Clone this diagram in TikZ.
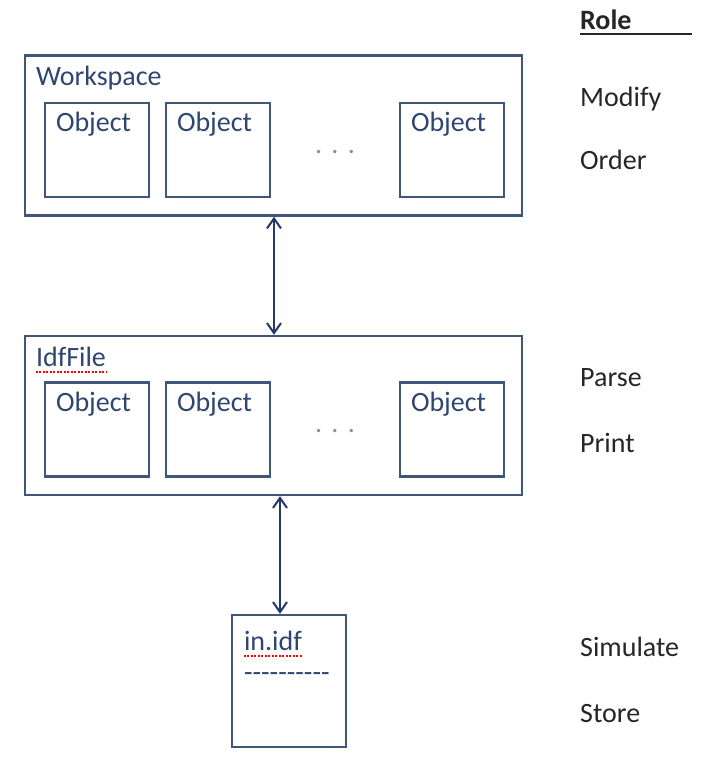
\documentclass[tikz,border=0pt]{standalone}
\usepackage{fontspec}
\setmainfont{Carlito}
\newfontfamily\rawfont{Carlito}
\usetikzlibrary{arrows.meta,calc,positioning}
\definecolor{boxline}{HTML}{40577A}
\definecolor{boxtext}{HTML}{2F4670}
\definecolor{linkcol}{HTML}{22396A}
\definecolor{roletext}{HTML}{262626}
\tikzset{
  panel/.style={draw=boxline, line width=2.4pt, minimum width=497pt, minimum height=160pt, inner sep=0pt},
  objbox/.style={draw=boxline, line width=2.4pt, minimum width=104pt, minimum height=94pt, inner sep=0pt},
  boxlbl/.style={anchor=base west, inner sep=0pt, text=boxtext, font=\fontsize{28}{34}\selectfont},
  rolelbl/.style={anchor=base west, inner sep=0pt, text=roletext, font=\fontsize{28}{34}\selectfont},
  link/.style={draw=linkcol, line width=2pt, {Straight Barb[length=10pt,width=14pt]}-{Straight Barb[length=10pt,width=14pt]}},
  spell/.style={draw=red, dash pattern=on 2pt off 1.5pt, line width=1.5pt}
}
\begin{document}
\begin{tikzpicture}[x=1pt, y=-1pt]
\useasboundingbox[fill=white] (0,0) rectangle (720,762);
% Workspace
\node[panel] (ws) at (273.5,135.5) {};
\node[boxlbl] (wslbl) at ([shift={(12,31)}]ws.north west) {Workspace};
\node[objbox] (w1) at (97,150) {};
\node[objbox] (w2) at (218,150) {};
\node[objbox] (w3) at (452,150) {};
\foreach \b in {w1,w2,w3}
  \node[boxlbl] (\b lbl) at ([shift={(12,30)}]\b.north west) {Object};
\node[boxlbl, anchor=center, text=boxtext!60] (wsdots) at ([yshift=-2pt]$(w2.east)!0.5!(w3.west)$) {.\,\,.\,\,.};
%
% IdfFile
\node[panel, minimum height=159pt] (idf) at (273.5,415.5) {};
\node[boxlbl] (idflbl) at ([shift={(12,32)}]idf.north west) {IdfFile};
\draw[spell] ([yshift=-5pt]idflbl.base west) -- ([yshift=-5pt]idflbl.base east);
\node[objbox] (f1) at (97,429.5) {};
\node[objbox] (f2) at (218,429.5) {};
\node[objbox] (f3) at (452,429.5) {};
\foreach \b in {f1,f2,f3}
  \node[boxlbl] (\b lbl) at ([shift={(12,30)}]\b.north west) {Object};
\node[boxlbl, anchor=center, text=boxtext!60] (idfdots) at ([yshift=-2pt]$(f2.east)!0.5!(f3.west)$) {.\,\,.\,\,.};
%
% in.idf
\node[draw=boxline, line width=2.4pt, minimum width=114pt, minimum height=132pt, inner sep=0pt] (file) at (289,681) {};
\node[boxlbl] (filelbl) at ([shift={(13,37)}]file.north west) {in.idf};
\draw[spell] ([yshift=-5pt]filelbl.base west) -- ([yshift=-5pt]filelbl.base east);
\node[boxlbl] (filesep) at ([shift={(13,68)}]file.north west) {\rawfont ----------};
%
% links
\coordinate (a1) at (274,0);
\coordinate (a2) at (280,0);
\draw[link] (a1 |- ws.south) -- (a1 |- idf.north);
\draw[link] (a2 |- idf.south) -- (a2 |- file.north);
%
% Role column
\node[rolelbl, font=\fontsize{28}{34}\selectfont\bfseries] (role) at (580,30) {Role};
\coordinate (roleend) at (692,0);
\draw[roletext, line width=2pt] ([yshift=-4pt]role.base west) -- ([yshift=-4pt]role.base west -| roleend);
\node[rolelbl] (modify) at (580,106.7) {Modify};
\node[rolelbl] (order) at (580,170) {Order};
\node[rolelbl] (parse) at (580,386) {Parse};
\node[rolelbl] (print) at (580,452.7) {Print};
\node[rolelbl] (simulate) at (580,656.7) {Simulate};
\node[rolelbl] (store) at (580,722.7) {Store};
\end{tikzpicture}
\end{document}
